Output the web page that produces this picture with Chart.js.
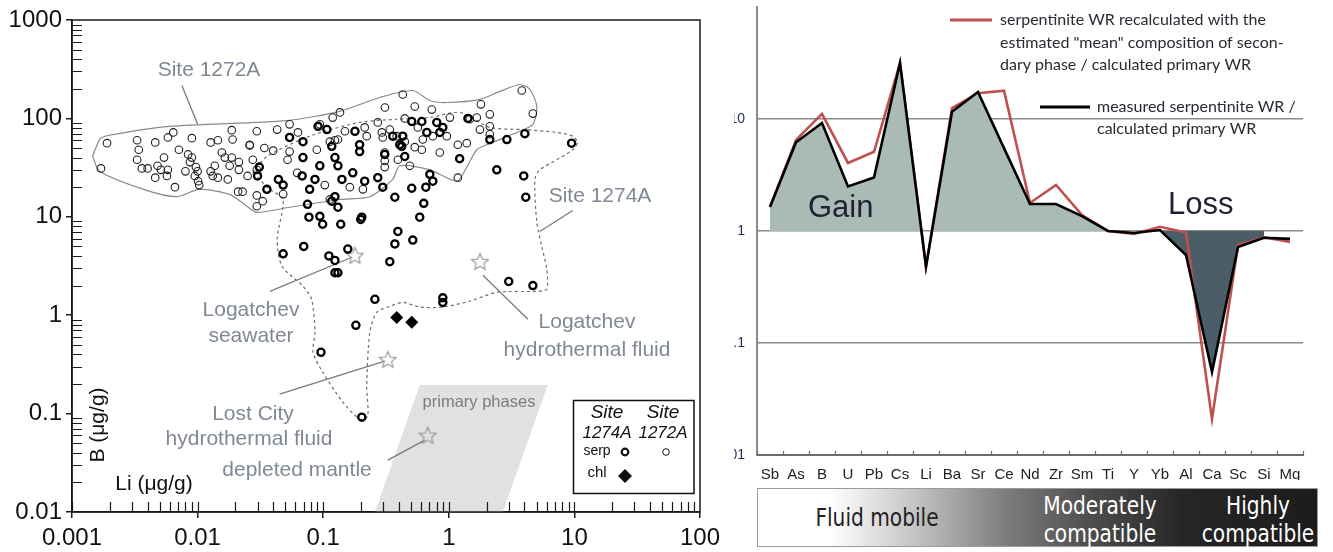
<!DOCTYPE html>
<html>
<head>
<meta charset="utf-8">
<script src="https://cdn.jsdelivr.net/npm/chart.js@4.4.1/dist/chart.umd.min.js"></script>
<style>
  body { margin: 0; background: #fff; }
  #wrap { position: relative; width: 1333px; height: 552px; overflow: hidden; }
  #liB { position: absolute; left: 0; top: 0; }
  #norm { position: absolute; left: 734px; top: 0; }
  #bar {
    position: absolute; left: 757px; top: 488px; width: 559px; height: 57px;
    border: 1.5px solid #9a9a9a;
    background: linear-gradient(to right, #fff 0%, #fff 13%, #c4c4c4 28%, #7e7e7e 44%, #4c4c4c 60%, #262626 76%, #1c1c1c 100%);
  }
  .bt {
    position: absolute; width: 200px; text-align: center; line-height: 28px;
    font-family: "DejaVu Sans", sans-serif; font-size: 24px;
    transform: scaleX(0.84); transform-origin: 50% 50%;
  }
</style>
</head>
<body>
<div id="wrap">
  <canvas id="liB" width="734" height="552"></canvas>
  <canvas id="norm" width="599" height="480"></canvas>
  <div id="bar">
    <div class="bt" style="left:19px;top:15px;color:#222">Fluid mobile</div>
    <div class="bt" style="left:242px;top:3px;color:#fff">Moderately</div>
    <div class="bt" style="left:242px;top:31px;color:#fff">compatible</div>
    <div class="bt" style="left:400px;top:3px;color:#fff">Highly</div>
    <div class="bt" style="left:400px;top:31px;color:#fff">compatible</div>
  </div>
</div>
<script>
// ---------- left panel: B vs Li ----------
const liTicks = [0.001, 0.01, 0.1, 1, 10, 100];
const liTickLabels = ['0.001', '0.01', '0.1', '1', '10', '100'];
const bTicks = [0.01, 0.1, 1, 10, 100, 1000];
const bTickLabels = ['0.01', '0.1', '1', '10', '100', '1000'];

// [Li, B] in µg/g
const site1272A = [
  [0.0019,56],[0.0017,31],[0.0033,60],[0.0034,48],[0.0046,57],[0.0058,64],[0.0064,72],[0.009,63],
  [0.0127,57],[0.0145,60],[0.0187,76],[0.019,61],[0.026,53],[0.0071,48],[0.0054,40],[0.0033,38],
  [0.0036,31],[0.004,31],[0.0048,33],[0.0051,30],[0.0058,30],[0.0057,26],[0.0046,25],[0.0066,20],
  [0.008,29],[0.0084,43],[0.009,40],[0.0087,36],[0.0097,32],[0.01,29],[0.0095,26],[0.0101,23],
  [0.0103,21],[0.0127,29],[0.0137,33],[0.0132,26],[0.0156,45],[0.0165,40],[0.0187,40],[0.018,33],
  [0.0213,36],[0.0213,30],[0.0145,25],[0.0174,24],[0.025,26],[0.021,18],[0.0228,18],
  [0.43,175],[0.31,129],[0.136,115],[0.119,102],[0.054,87],[0.094,87],[0.272,91],[0.446,100],
  [0.0296,74],[0.043,77],[0.063,72],[0.149,74],[0.214,81],[0.293,72],[0.339,77],[0.385,66],
  [0.298,64],[0.222,66],[0.026,54],[0.034,50],[0.040,47],[0.054,46],[0.089,48],[0.113,58],
  [0.131,61],[0.309,45],[0.446,58],[0.393,38],[0.0275,38],[0.052,38],[0.309,37],[0.309,32],
  [0.0296,30],[0.062,28],[0.103,21],[0.163,20],[0.207,19],[0.0296,16.5],[0.033,14.4],[0.0296,12.8],
  [0.048,17],[0.113,15],[0.124,60],
  [0.732,123],[0.536,132],[1.80,139],[2.12,110],[3.81,192],[4.67,112],[1.47,98],[1.67,102],
  [1.77,77],[2.12,83],[2.12,69],[1.18,54],[1.39,56],[0.848,45],[1.18,25],[0.567,81],
  [0.621,61],[0.746,66],[1.02,102],[0.964,66],[0.536,51],[0.61,48],[0.489,33]
];
const site1274Aserp = [
  [0.030,26],[0.031,32],[0.054,64],[0.069,58],[0.069,40],[0.068,26],[0.094,33],[0.117,52],
  [0.124,40],[0.131,33],[0.141,24],[0.179,74],[0.195,54],[0.195,46],[0.172,28],[0.214,23],
  [0.272,25],[0.309,43],[0.298,20],[0.372,15.8],[0.358,66],[0.422,52],[0.0356,19],[0.044,24],
  [0.048,21],[0.086,24],[0.078,19],[0.124,16],[0.117,14.4],[0.131,12.5],[0.075,13.4],[0.077,9.9],
  [0.094,10.1],[0.203,9.9],[0.091,83],[0.107,77],[0.507,93],[0.61,93],[0.802,91],[0.896,81],
  [1.42,100],[0.43,66],[0.407,54],[0.446,41],[0.668,72],[0.848,72],[2.12,61],[2.9,61],
  [4.03,70],[9.5,56],[1.22,39],[0.706,27],[0.746,23],[0.656,20],[0.507,19.5],[0.632,13.7],
  [2.41,30],[3.95,26],[4.10,15.8],[0.587,9.9],[0.099,8.4],[0.138,8.4],[0.199,9.4],[0.393,7.1],
  [0.372,5.3],[0.339,3.5],[0.157,4.7],[0.070,5.0],[0.048,4.2],[0.111,4.0],[0.124,3.6],[0.124,2.7],
  [0.131,2.7],[0.258,1.45],[0.182,0.79],[0.096,0.42],[0.203,0.092],[0.517,5.8],[3.0,2.2],[4.67,2.0],
  [0.896,1.5],[0.896,1.35]
];
const site1274Achl = [[0.385,0.95],[0.507,0.85]];

const outline1272A = [
  [0.00146,41],[0.00166,61],[0.00193,67],[0.006,83],[0.051,95],[0.136,118],[0.282,163],[0.517,192],
  [0.706,152],[0.964,145],[1.77,156],[2.55,188],[3.67,221],[4.42,197],[5.02,132],[4.67,87],
  [3.48,72],[2.01,54],[1.67,48],[1.39,32],[1.16,23],[0.706,30],[0.407,33],[0.358,24],
  [0.235,16],[0.136,15],[0.054,12.5],[0.0296,11.1],[0.0247,12.8],[0.018,16.9],[0.0103,19],[0.0068,16],
  [0.0037,19],[0.00166,29],[0.00146,41]
];
const outline1274A = [
  [0.0275,28],[0.0356,41],[0.078,66],[0.195,91],[0.385,98],[0.706,102],[1.22,115],[2.12,81],
  [3.88,77],[7.24,72],[9.71,66],[10.6,57],[9.71,48],[7.24,38],[5.3,30],[4.84,24],
  [5.02,8.8],[5.5,5.0],[6.03,2.93],[6.03,1.84],[5.02,1.75],[2.41,1.71],[1.47,1.39],[0.896,1.21],
  [0.587,1.21],[0.43,1.35],[0.339,1.23],[0.267,1.07],[0.235,0.67],[0.222,0.19],[0.226,0.094],[0.195,0.088],
  [0.143,0.131],[0.099,0.264],[0.083,0.42],[0.086,0.67],[0.081,1.45],[0.069,1.97],[0.047,3.14],[0.043,5.9],
  [0.048,15],[0.0376,19],[0.0275,28]
];
const primaryPhases = [[0.258,0.01],[0.587,0.195],[6.14,0.195],[2.69,0.01]];
// Logatchev seawater, Logatchev hydrothermal fluid, Lost City fluid, depleted mantle
const referenceStars = [[0.179,4.07],[1.77,3.53],[0.327,0.357],[0.68,0.0605]];
const leaderLines = [
  [[0.0075,216],[0.01,87]],
  [[9.7,11.6],[5.3,7.1]],
  [[0.0376,1.75],[0.169,3.88]],
  [[4.26,0.91],[1.87,2.55]],
  [[0.045,0.158],[0.309,0.341]],
  [[0.327,0.0337],[0.644,0.0538]]
];

const toXY = arr => arr.map(p => ({ x: p[0], y: p[1] }));
const sans = '"Liberation Sans", Arial, sans-serif';

function starImage(size, color) {
  const c = document.createElement('canvas');
  c.width = c.height = size;
  const g = c.getContext('2d');
  g.strokeStyle = color;
  g.lineWidth = 1.2;
  g.beginPath();
  for (let i = 0; i < 10; i++) {
    const r = i % 2 ? size * 0.21 : size * 0.46;
    const a = -Math.PI / 2 + i * Math.PI / 5;
    g.lineTo(size / 2 + r * Math.cos(a), size / 2 + 1 + r * Math.sin(a));
  }
  g.closePath();
  g.stroke();
  return c;
}

// grey "primary phases" field, placed through the chart scales
const phaseShade = {
  id: 'phaseShade',
  beforeDatasetsDraw(chart) {
    const { ctx, chartArea: a, scales: { x, y } } = chart;
    ctx.save();
    ctx.beginPath();
    ctx.rect(a.left, a.top, a.right - a.left, a.bottom - a.top);
    ctx.clip();
    ctx.beginPath();
    primaryPhases.forEach((p, i) => {
      const px = x.getPixelForValue(p[0]), py = y.getPixelForValue(p[1]);
      if (i) ctx.lineTo(px, py); else ctx.moveTo(px, py);
    });
    ctx.closePath();
    ctx.fillStyle = '#e1e1e1';
    ctx.fill();
    ctx.restore();
  }
};

const leftDecor = {
  id: 'leftDecor',
  afterDraw(chart) {
    const { ctx, chartArea: a, scales: { x, y } } = chart;
    ctx.save();
    ctx.strokeStyle = '#1a1a1a';
    ctx.lineWidth = 1.5;
    ctx.strokeRect(a.left, a.top, a.right - a.left, a.bottom - a.top);
    // inward ticks
    ctx.lineWidth = 1.2;
    ctx.beginPath();
    for (let d = 0.001; d < 100; d *= 10) {
      for (let m = 1; m <= 9; m++) {
        const px = Math.round(x.getPixelForValue(d * m)) + 0.5;
        ctx.moveTo(px, a.bottom);
        ctx.lineTo(px, a.bottom - 10);
      }
    }
    for (let d = 0.01; d < 1000; d *= 10) {
      for (let m = 2; m <= 9; m++) {
        const py = Math.round(y.getPixelForValue(d * m)) + 0.5;
        ctx.moveTo(a.left, py);
        ctx.lineTo(a.left + 10, py);
      }
    }
    ctx.stroke();

    ctx.textAlign = 'center';
    ctx.textBaseline = 'middle';
    ctx.fillStyle = '#808894';
    ctx.font = '21px ' + sans;
    [['Site 1272A', 209, 70], ['Site 1274A', 600, 196], ['Logatchev', 251, 310], ['seawater', 251, 336],
     ['Logatchev', 587, 322], ['hydrothermal fluid', 587, 350], ['Lost City', 253, 414],
     ['hydrothermal fluid', 249, 439], ['depleted mantle', 297, 470]]
      .forEach(t => ctx.fillText(t[0], t[1], t[2]));
    ctx.fillStyle = '#7c7c7c';
    ctx.font = '16.5px ' + sans;
    ctx.fillText('primary phases', 479, 402);

    ctx.fillStyle = '#111';
    ctx.font = '21px ' + sans;
    ctx.fillText('Li (μg/g)', 154, 484);
    ctx.save();
    ctx.translate(98, 425);
    ctx.rotate(-Math.PI / 2);
    ctx.fillText('B (μg/g)', 0, 0);
    ctx.restore();

    // legend box
    ctx.strokeStyle = '#111';
    ctx.lineWidth = 1.5;
    ctx.strokeRect(573.5, 400.5, 120.5, 93);
    ctx.font = 'italic 19px ' + sans;
    ctx.fillText('Site', 607, 413);
    ctx.fillText('Site', 663, 413);
    ctx.font = 'italic 17px ' + sans;
    ctx.fillText('1274A', 607, 433);
    ctx.fillText('1272A', 663, 433);
    ctx.font = '14px ' + sans;
    ctx.fillText('serp', 597, 451);
    ctx.font = '15px ' + sans;
    ctx.fillText('chl', 597, 473);
    ctx.lineWidth = 2.2;
    ctx.beginPath(); ctx.arc(625, 452, 3.3, 0, Math.PI * 2); ctx.stroke();
    ctx.lineWidth = 1;
    ctx.beginPath(); ctx.arc(666, 452, 3.3, 0, Math.PI * 2); ctx.stroke();
    ctx.beginPath();
    ctx.moveTo(625, 469); ctx.lineTo(632, 476); ctx.lineTo(625, 483); ctx.lineTo(618, 476);
    ctx.closePath(); ctx.fill();
    ctx.restore();
  }
};

const leftDatasets = [
  {
    data: toXY(outline1272A), showLine: true, borderColor: '#8a8a8a', borderWidth: 1.2,
    pointRadius: 0, tension: 0.25, order: 15
  },
  {
    data: toXY(outline1274A), showLine: true, borderColor: '#6e6e6e', borderWidth: 1.2,
    borderDash: [3, 3], pointRadius: 0, tension: 0.25, order: 14
  }
];
leaderLines.forEach(seg => leftDatasets.push({
  data: toXY(seg), showLine: true, borderColor: '#7a7a7a', borderWidth: 1.3, pointRadius: 0, order: 13
}));
leftDatasets.push(
  { data: toXY(referenceStars), pointStyle: starImage(19, '#9a9a9a'), order: 12 },
  { data: toXY(site1272A), pointStyle: 'circle', pointRadius: 3.8, borderWidth: 1.1,
    borderColor: '#222', backgroundColor: 'rgba(0,0,0,0)', order: 3 },
  { data: toXY(site1274Aserp), pointStyle: 'circle', pointRadius: 3.6, borderWidth: 2.3,
    borderColor: '#000', backgroundColor: 'rgba(0,0,0,0)', order: 2 },
  { data: toXY(site1274Achl), pointStyle: 'rectRot', pointRadius: 6.5, borderWidth: 0,
    backgroundColor: '#000', order: 1 }
);

new Chart(document.getElementById('liB'), {
  type: 'scatter',
  data: { datasets: leftDatasets },
  options: {
    responsive: false,
    animation: false,
    layout: { padding: { top: 20, right: 34, left: 0, bottom: 0 } },
    plugins: { legend: { display: false }, tooltip: { enabled: false } },
    scales: {
      x: {
        type: 'logarithmic', min: 0.001, max: 100,
        afterBuildTicks: s => { s.ticks = liTicks.map(v => ({ value: v })); },
        afterFit: s => { s.height = 40; },
        ticks: {
          autoSkip: false, maxRotation: 0, padding: 6, color: '#111',
          font: { family: sans, size: 24 },
          callback: (v, i) => liTickLabels[i]
        },
        grid: { drawOnChartArea: false, tickLength: 6, color: '#1a1a1a', lineWidth: 1.5 },
        border: { color: '#1a1a1a', width: 1.5 }
      },
      y: {
        type: 'logarithmic', min: 0.01, max: 1000,
        afterBuildTicks: s => { s.ticks = bTicks.map(v => ({ value: v })); },
        afterFit: s => { s.width = 72; },
        ticks: {
          autoSkip: false, padding: 4, color: '#111',
          font: { family: sans, size: 24 },
          callback: (v, i) => bTickLabels[i]
        },
        grid: { drawOnChartArea: false, tickLength: 6, color: '#1a1a1a', lineWidth: 1.5 },
        border: { color: '#1a1a1a', width: 1.5 }
      }
    }
  },
  plugins: [phaseShade, leftDecor]
});

// ---------- right panel: normalised element pattern ----------
const elements = ['Sb','As','B','U','Pb','Cs','Li','Ba','Sr','Ce','Nd','Zr','Sm','Ti','Y','Yb','Al','Ca','Sc','Si','Mg'];
const measuredWR     = [1.64, 6.2, 9.2, 2.5, 3.0, 31.6, 0.48, 11.6, 17.4, 5.5, 1.74, 1.74, 1.36, 1.0, 0.96, 1.02, 0.61, 0.055, 0.72, 0.87, 0.85];
const recalculatedWR = [1.64, 6.5, 11.1, 4.05, 5.1, 31.6, 0.48, 12.5, 17.0, 17.9, 1.78, 2.58, 1.39, 1.0, 0.94, 1.09, 0.97, 0.021, 0.75, 0.88, 0.80];
const normTicks = [0.01, 0.1, 1, 10, 100];
const normTickLabels = ['0.01', '0.1', '1', '10', ''];
const lossFrom = 'Yb', lossTo = 'Si';

const lossSpan = measuredWR.map((v, i) =>
  i >= elements.indexOf(lossFrom) && i <= elements.indexOf(lossTo) ? v : null);

const rightDecor = {
  id: 'rightDecor',
  afterDraw(chart) {
    const { ctx, chartArea: a } = chart;
    const ox = 734;  // canvas offset on the page
    ctx.save();
    // small boundary ticks on the element axis
    ctx.strokeStyle = '#6b6b6b';
    ctx.lineWidth = 1.2;
    ctx.beginPath();
    for (let i = 0; i <= elements.length; i++) {
      const px = Math.round(a.left + (a.right - a.left) * i / elements.length) + 0.5;
      ctx.moveTo(px, a.bottom - 4);
      ctx.lineTo(px, a.bottom);
    }
    ctx.stroke();

    // legend
    ctx.lineWidth = 3;
    ctx.strokeStyle = '#c0504d';
    ctx.beginPath(); ctx.moveTo(950 - ox, 20); ctx.lineTo(992 - ox, 20); ctx.stroke();
    ctx.strokeStyle = '#000';
    ctx.beginPath(); ctx.moveTo(1040 - ox, 107); ctx.lineTo(1090 - ox, 107); ctx.stroke();
    ctx.fillStyle = '#2a2a33';
    ctx.font = '16px Lato, "Open Sans", sans-serif';
    ctx.textBaseline = 'middle';
    ctx.textAlign = 'left';
    ctx.fillText('serpentinite WR recalculated with the', 1000 - ox, 20);
    ctx.fillText('estimated "mean" composition of secon-', 1000 - ox, 43);
    ctx.fillText('dary phase / calculated primary WR', 1000 - ox, 65);
    ctx.fillText('measured serpentinite WR /', 1097 - ox, 107);
    ctx.fillText('calculated primary WR', 1097 - ox, 129);

    ctx.fillStyle = '#1e2233';
    ctx.font = '31px ' + sans;
    ctx.fillText('Gain', 808 - ox, 208);
    ctx.fillText('Loss', 1168 - ox, 205);
    ctx.restore();
  }
};

new Chart(document.getElementById('norm'), {
  type: 'line',
  data: {
    labels: elements,
    datasets: [
      {
        data: measuredWR, borderColor: '#000', borderWidth: 2.6, pointRadius: 0, tension: 0,
        fill: { target: { value: 1 }, above: '#a9bbb4', below: 'rgba(0,0,0,0)' }, order: 1
      },
      {
        data: recalculatedWR, borderColor: '#c0504d', borderWidth: 2.6, pointRadius: 0, tension: 0,
        fill: false, order: 2
      },
      {
        data: lossSpan, borderWidth: 0, borderColor: 'rgba(0,0,0,0)', pointRadius: 0, tension: 0,
        fill: { target: { value: 1 }, above: 'rgba(0,0,0,0)', below: '#4b5e68' }, order: 3
      }
    ]
  },
  options: {
    responsive: false,
    animation: false,
    layout: { padding: { top: 7, right: 30, left: 0, bottom: 0 } },
    plugins: { legend: { display: false }, tooltip: { enabled: false } },
    scales: {
      x: {
        offset: true,
        afterFit: s => { s.height = 25; s.paddingLeft = 0; s.paddingRight = 0; },
        ticks: {
          autoSkip: false, maxRotation: 0, padding: 3, color: '#222',
          font: { family: sans, size: 15 }
        },
        grid: { display: false },
        border: { color: '#6b6b6b', width: 2 }
      },
      y: {
        type: 'logarithmic', min: 0.01, max: 100,
        afterBuildTicks: s => { s.ticks = normTicks.map(v => ({ value: v })); },
        afterFit: s => { s.width = 23; s.paddingTop = 0; s.paddingBottom = 0; },
        ticks: {
          padding: 12, color: '#1f2d5c', font: { family: sans, size: 14 },
          callback: (v, i) => normTickLabels[i]
        },
        grid: {
          drawTicks: false, lineWidth: 1.6,
          color: c => (c.tick && (c.tick.value === 0.01 || c.tick.value === 100)) ? 'rgba(0,0,0,0)' : '#8c8c8c'
        },
        border: { color: '#8c8c8c', width: 2 }
      }
    }
  },
  plugins: [rightDecor]
});
</script>
</body>
</html>
